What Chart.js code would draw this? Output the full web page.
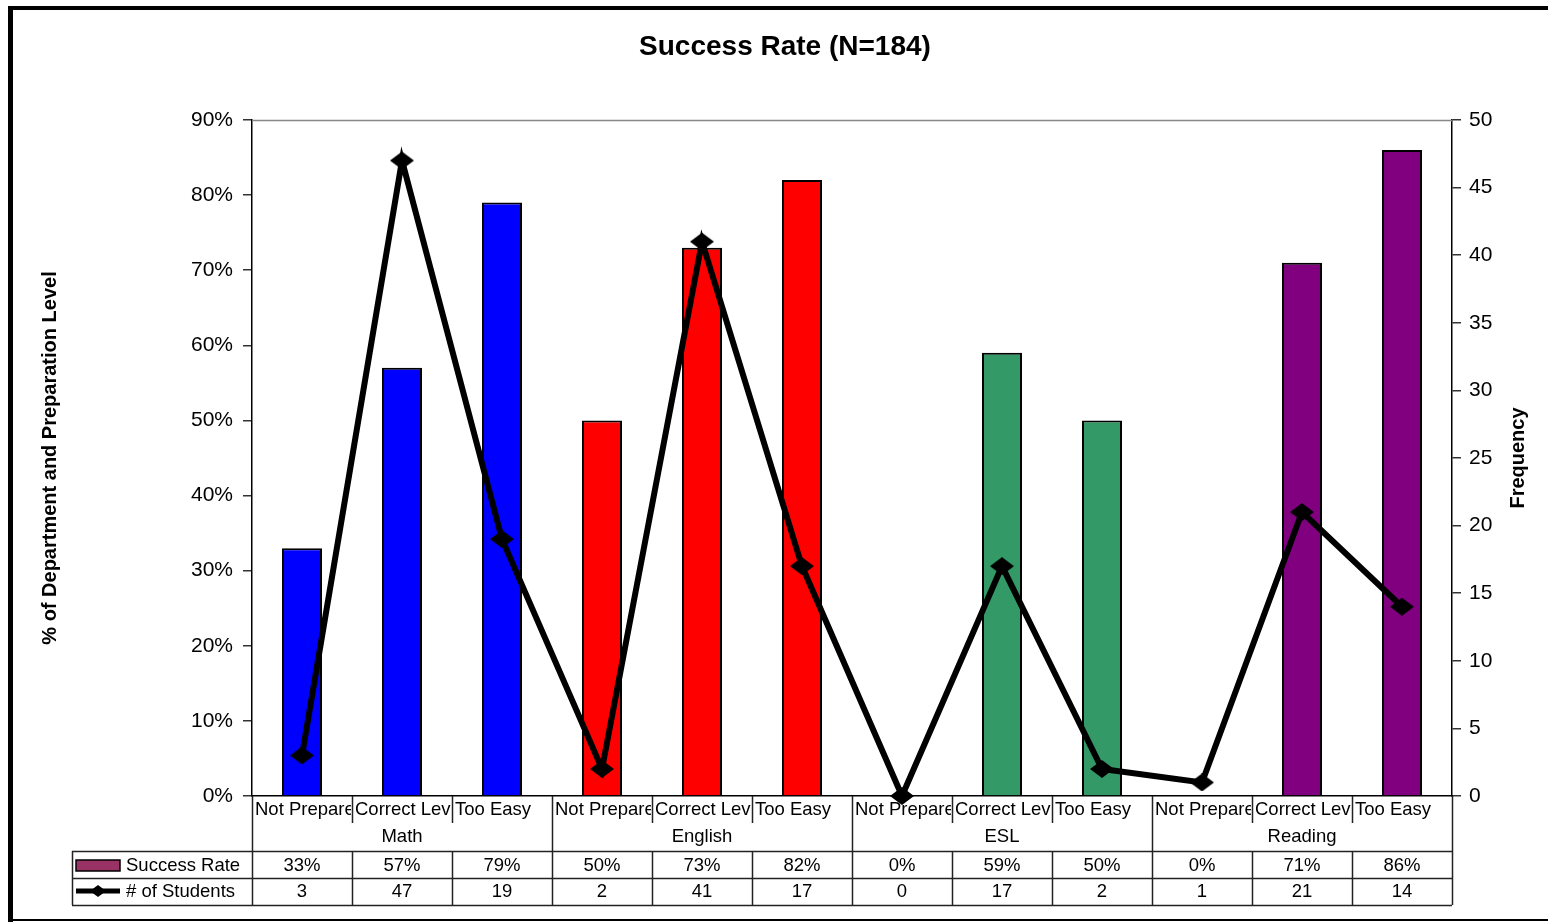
<!DOCTYPE html>
<html>
<head>
<meta charset="utf-8">
<script src="https://cdn.jsdelivr.net/npm/chart.js@4"></script>
<style>
  html, body { margin: 0; padding: 0; background: #fff; }
  canvas { display: block; }
</style>
</head>
<body>
<canvas id="c" width="1548" height="922"></canvas>
<script>
// Departments and preparation levels (one bar per level within each department)
const groups = ['Math', 'English', 'ESL', 'Reading'];
const levels = ['Not Prepared', 'Correct Level', 'Too Easy'];
// Success rate (%) per department / level
const successRate = [33, 57, 79, 50, 73, 82, 0, 59, 50, 0, 71, 86];
// Number of students per department / level
const students = [3, 47, 19, 2, 41, 17, 0, 17, 2, 1, 21, 14];
// Bar fill per department
const groupColors = ['#0000FF', '#FF0000', '#339966', '#800080'];
// Axis ticks
const rateTickStep = 10, rateMax = 90;
const freqTickStep = 5, freqMax = 50;

const FONT = '"Liberation Sans", Arial, Helvetica, sans-serif';
Chart.defaults.font.family = FONT;
Chart.defaults.color = '#000';

const labels = [];
groups.forEach(g => levels.forEach(l => labels.push([l, g])));
const barColors = labels.map((_, i) => groupColors[Math.floor(i / levels.length)]);

// Wide diamond marker for the student-count line
const diamond = document.createElement('canvas');
diamond.width = 24; diamond.height = 18;
(() => {
  const d = diamond.getContext('2d');
  d.fillStyle = '#000';
  d.beginPath();
  d.moveTo(0, 9); d.lineTo(12, 0); d.lineTo(24, 9); d.lineTo(12, 18);
  d.closePath();
  d.fill();
})();

// Draws the title, frame, plot's top edge, right axis title and the data table
const tablePlugin = {
  id: 'dataTable',
  afterDraw(chart) {
    const ctx = chart.ctx;
    const xs = chart.scales.x;
    const { left, right, top, bottom } = chart.chartArea;
    const n = successRate.length;
    const colW = (right - left) / n;
    const edge = i => xs.getPixelForValue(i) - colW / 2;
    const yCatSep = bottom + 27, yGroup = bottom + 55, yRow1 = bottom + 82, yRow2 = bottom + 109;
    const tableLeft = 72;

    ctx.save();
    // chart title
    ctx.fillStyle = '#000';
    ctx.font = 'bold 28px ' + FONT;
    ctx.textAlign = 'center';
    ctx.textBaseline = 'middle';
    ctx.fillText('Success Rate (N=184)', 785, 47);

    // plot area top edge
    ctx.strokeStyle = '#888';
    ctx.lineWidth = 1.5;
    ctx.beginPath();
    ctx.moveTo(left, top + 0.5);
    ctx.lineTo(right, top + 0.5);
    ctx.stroke();

    // right axis title
    ctx.save();
    ctx.translate(1518, (top + bottom) / 2);
    ctx.rotate(-Math.PI / 2);
    ctx.font = 'bold 20px ' + FONT;
    ctx.textAlign = 'center';
    ctx.textBaseline = 'middle';
    ctx.fillText('Frequency', 0, 0);
    ctx.restore();

    // table grid
    ctx.strokeStyle = '#222';
    ctx.lineWidth = 1.5;
    ctx.beginPath();
    for (let i = 0; i <= n; i++) {
      const x = Math.round(edge(i)) + 0.5;
      if (i % levels.length === 0) {
        ctx.moveTo(x, bottom); ctx.lineTo(x, yRow2);
      } else {
        ctx.moveTo(x, bottom); ctx.lineTo(x, yCatSep);
        ctx.moveTo(x, yGroup); ctx.lineTo(x, yRow2);
      }
    }
    [yGroup, yRow1, yRow2].forEach(y => {
      ctx.moveTo(tableLeft, y + 0.5); ctx.lineTo(right, y + 0.5);
    });
    ctx.moveTo(tableLeft + 0.5, yGroup); ctx.lineTo(tableLeft + 0.5, yRow2);
    ctx.stroke();

    // category labels (clipped to their cells)
    ctx.fillStyle = '#000';
    ctx.font = '18.5px ' + FONT;
    ctx.textBaseline = 'middle';
    for (let i = 0; i < n; i++) {
      const x0 = edge(i);
      ctx.save();
      ctx.beginPath();
      ctx.rect(x0 + 1, bottom + 1, colW - 2, 26);
      ctx.clip();
      ctx.textAlign = 'left';
      ctx.fillText(levels[i % levels.length], x0 + 3, bottom + 14);
      ctx.restore();
    }
    // department labels
    ctx.textAlign = 'center';
    groups.forEach((g, gi) => {
      const a = edge(gi * levels.length), b = edge((gi + 1) * levels.length);
      ctx.fillText(g, (a + b) / 2, bottom + 41);
    });
    // values
    for (let i = 0; i < n; i++) {
      const cx = xs.getPixelForValue(i);
      ctx.fillText(successRate[i] + '%', cx, yGroup + 15);
      ctx.fillText(String(students[i]), cx, yRow1 + 14);
    }

    // legend keys
    ctx.fillStyle = '#993366';
    ctx.fillRect(76, 860, 44, 11);
    ctx.strokeStyle = '#000';
    ctx.lineWidth = 1.5;
    ctx.strokeRect(76, 860, 44, 11);
    ctx.lineWidth = 5;
    ctx.beginPath();
    ctx.moveTo(76, yRow1 + 13); ctx.lineTo(120, yRow1 + 13);
    ctx.stroke();
    ctx.fillStyle = '#000';
    ctx.beginPath();
    ctx.moveTo(98 - 8, yRow1 + 13); ctx.lineTo(98, yRow1 + 7);
    ctx.lineTo(98 + 8, yRow1 + 13); ctx.lineTo(98, yRow1 + 19);
    ctx.closePath();
    ctx.fill();
    ctx.textAlign = 'left';
    ctx.fillText('Success Rate', 126, yGroup + 15);
    ctx.fillText('# of Students', 126, yRow1 + 14);

    // outer frame
    ctx.fillStyle = '#000';
    ctx.fillRect(8, 6, 1540, 4);
    ctx.fillRect(8, 6, 5, 916);
    ctx.fillRect(8, 919, 1540, 2);
    ctx.restore();
  }
};

new Chart(document.getElementById('c'), {
  data: {
    labels: labels,
    datasets: [
      {
        type: 'line',
        label: '# of Students',
        data: students,
        yAxisID: 'y1',
        borderColor: '#000',
        borderWidth: 6,
        backgroundColor: '#000',
        pointStyle: diamond,
        pointRadius: 9,
        tension: 0,
        clip: false,
        order: 0
      },
      {
        type: 'bar',
        label: 'Success Rate',
        data: successRate,
        yAxisID: 'y',
        backgroundColor: barColors,
        borderColor: '#000',
        borderWidth: 2,
        barPercentage: 0.4,
        categoryPercentage: 1,
        order: 1
      }
    ]
  },
  options: {
    responsive: false,
    animation: false,
    layout: { padding: { top: 120 } },
    plugins: {
      legend: { display: false },
      tooltip: { enabled: false },
      title: { display: false }
    },
    scales: {
      x: {
        type: 'category',
        offset: true,
        grid: { display: false },
        ticks: { display: false },
        border: { display: true, color: '#000', width: 1.5 },
        afterFit: s => { s.height = 126; }
      },
      y: {
        position: 'left',
        min: 0,
        max: rateMax,
        ticks: {
          stepSize: rateTickStep,
          callback: v => v + '%',
          font: { size: 21 },
          color: '#000',
          padding: 10
        },
        grid: { drawOnChartArea: false, drawTicks: true, tickLength: 9, color: '#333', lineWidth: 1.5 },
        border: { display: true, color: '#000', width: 1.5 },
        title: {
          display: true,
          text: '% of Department and Preparation Level',
          font: { size: 20, weight: 'bold' },
          color: '#000',
          padding: { top: 38, bottom: 0 }
        },
        afterFit: s => { s.width = 252; }
      },
      y1: {
        position: 'right',
        min: 0,
        max: freqMax,
        ticks: {
          stepSize: freqTickStep,
          font: { size: 21 },
          color: '#000',
          padding: 8
        },
        grid: { drawOnChartArea: false, drawTicks: true, tickLength: 9, color: '#333', lineWidth: 1.5 },
        border: { display: true, color: '#000', width: 1.5 },
        afterFit: s => { s.width = 96; }
      }
    }
  },
  plugins: [tablePlugin]
});
</script>
</body>
</html>
